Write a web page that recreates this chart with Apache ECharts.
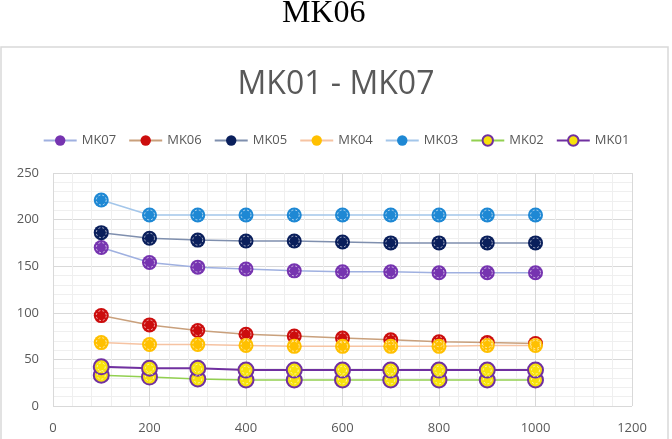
<!DOCTYPE html>
<html>
<head>
<meta charset="utf-8">
<script src="https://cdn.jsdelivr.net/npm/echarts@6/dist/echarts.min.js"></script>
<style>html,body{margin:0;padding:0;background:#fff}#c{width:672px;height:439px}</style>
</head>
<body>
<div id="c"></div>
<script>
var xValues = [100, 200, 300, 400, 500, 600, 700, 800, 900, 1000];
var MK07 = [170, 154, 149, 147, 145, 144, 144, 143, 143, 143];
var MK06 = [97, 87, 81, 77, 75, 73, 71, 69, 68, 67];
var MK05 = [186, 180, 178, 177, 177, 176, 175, 175, 175, 175];
var MK04 = [68, 66, 66, 65, 64, 64, 64, 64, 65, 65];
var MK03 = [221, 205, 205, 205, 205, 205, 205, 205, 205, 205];
var MK02 = [33, 31, 29, 28, 28, 28, 28, 28, 28, 28];
var MK01 = [42, 40.5, 40.5, 38.5, 38.5, 38.5, 38.5, 38.5, 38.5, 38.5];
var xTicks = [0, 200, 400, 600, 800, 1000, 1200];
var yTicks = [0, 50, 100, 150, 200, 250];

var seriesDefs = [
  {name: 'MK07', data: MK07, fill: '#7634b0', border: null, line: '#9fb0e0', lw: 1.5},
  {name: 'MK06', data: MK06, fill: '#cc0d0d', border: null, line: '#c9a07c', lw: 1.5},
  {name: 'MK05', data: MK05, fill: '#0a1f5c', border: null, line: '#7f8fae', lw: 1.5},
  {name: 'MK04', data: MK04, fill: '#ffc000', border: null, line: '#f6c3a2', lw: 1.5},
  {name: 'MK03', data: MK03, fill: '#1e88d4', border: null, line: '#a3c6ea', lw: 1.5},
  {name: 'MK02', data: MK02, fill: '#f7e10c', border: '#7030a0', line: '#92d050', lw: 1.5},
  {name: 'MK01', data: MK01, fill: '#f7e10c', border: '#7030a0', line: '#7030a0', lw: 2}
];

function pairs(arr) { return arr.map(function (v, i) { return [xValues[i], v]; }); }

var series = [];
seriesDefs.forEach(function (d, idx) {
  series.push({
    name: d.name, type: 'line', data: pairs(d.data),
    symbol: 'circle', symbolSize: 15, z: 2 + idx,
    lineStyle: {color: d.line, width: d.lw},
    itemStyle: {color: d.fill, borderColor: d.border || d.fill, borderWidth: d.border ? 2 : 0},
    emphasis: {disabled: true}, animation: false
  });
  series.push({
    name: d.name + '_ring', type: 'scatter', data: pairs(d.data),
    symbol: 'circle', symbolSize: d.border ? 8 : 10, z: 20 + idx, silent: true,
    itemStyle: {color: 'rgba(0,0,0,0)', borderColor: 'rgba(255,255,255,0.8)', borderWidth: 1, borderType: [2, 2]},
    animation: false
  });
});

var chart = echarts.init(document.getElementById('c'), null, {renderer: 'canvas'});
chart.setOption({
  backgroundColor: '#fff',
  animation: false,
  graphic: [{
    type: 'rect', shape: {x: 1, y: 47, width: 667, height: 420},
    style: {fill: '#fff', stroke: '#d9d9d9', lineWidth: 1.5}, z: -10, silent: true
  }],
  title: [
    {text: 'MK06', left: 277, top: -7,
     textStyle: {fontFamily: 'Liberation Serif', fontSize: 32, fontWeight: 'normal', color: '#000'}},
    {text: 'MK01 - MK07', left: 'center', top: 64,
     textStyle: {fontFamily: 'Open Sans', fontSize: 32, fontWeight: 'normal', color: '#595959'}}
  ],
  legend: {
    data: seriesDefs.map(function (d) { return d.name; }),
    left: 'center', top: 129, itemWidth: 33, itemHeight: 13, itemGap: 12,
    textStyle: {fontFamily: 'Open Sans', fontSize: 13, color: '#595959'}
  },
  grid: {left: 53, right: 40, top: 173, bottom: 33, containLabel: false},
  xAxis: {
    type: 'value', min: xTicks[0], max: xTicks[xTicks.length - 1], interval: 200,
    axisLine: {show: false}, axisTick: {show: false},
    axisLabel: {fontFamily: 'Open Sans', fontSize: 13, color: '#595959', margin: 16,
                formatter: function (v) { return String(v); }},
    splitLine: {show: true, lineStyle: {color: '#d9d9d9', width: 1}},
    minorTick: {show: false, splitNumber: 5},
    minorSplitLine: {show: true, lineStyle: {color: '#efefef', width: 1}}
  },
  yAxis: {
    type: 'value', min: yTicks[0], max: yTicks[yTicks.length - 1], interval: 50,
    axisLine: {show: false}, axisTick: {show: false},
    axisLabel: {fontFamily: 'Open Sans', fontSize: 13, color: '#595959', margin: 14,
                formatter: function (v) { return String(v); }},
    splitLine: {show: true, lineStyle: {color: '#d9d9d9', width: 1}},
    minorTick: {show: false, splitNumber: 5},
    minorSplitLine: {show: true, lineStyle: {color: '#efefef', width: 1}}
  },
  series: series
});
</script>
</body>
</html>
